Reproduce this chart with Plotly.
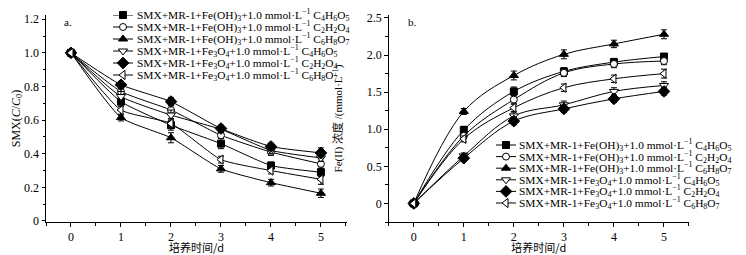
import plotly.graph_objects as go

days = [0, 1, 2, 3, 4, 5]

series_names = [
    "SMX+MR-1+Fe(OH)<sub>3</sub>+1.0 mmol·L<sup>−1</sup> C<sub>4</sub>H<sub>6</sub>O<sub>5</sub>",
    "SMX+MR-1+Fe(OH)<sub>3</sub>+1.0 mmol·L<sup>−1</sup> C<sub>2</sub>H<sub>2</sub>O<sub>4</sub>",
    "SMX+MR-1+Fe(OH)<sub>3</sub>+1.0 mmol·L<sup>−1</sup> C<sub>6</sub>H<sub>8</sub>O<sub>7</sub>",
    "SMX+MR-1+Fe<sub>3</sub>O<sub>4</sub>+1.0 mmol·L<sup>−1</sup> C<sub>4</sub>H<sub>6</sub>O<sub>5</sub>",
    "SMX+MR-1+Fe<sub>3</sub>O<sub>4</sub>+1.0 mmol·L<sup>−1</sup> C<sub>2</sub>H<sub>2</sub>O<sub>4</sub>",
    "SMX+MR-1+Fe<sub>3</sub>O<sub>4</sub>+1.0 mmol·L<sup>−1</sup> C<sub>6</sub>H<sub>8</sub>O<sub>7</sub>",
]

# Panel a: SMX C/C0
smx_fe_oh3_c4 = [1.0, 0.71, 0.57, 0.46, 0.33, 0.29]
smx_fe_oh3_c2 = [1.0, 0.77, 0.66, 0.51, 0.41, 0.34]
smx_fe_oh3_c6 = [1.0, 0.615, 0.495, 0.31, 0.228, 0.165]
smx_fe3o4_c4 = [1.0, 0.74, 0.63, 0.545, 0.42, 0.375]
smx_fe3o4_c2 = [1.0, 0.81, 0.71, 0.55, 0.443, 0.405]
smx_fe3o4_c6 = [1.0, 0.66, 0.58, 0.365, 0.30, 0.248]
smx_err = [
    [0.01, 0.03, 0.03, 0.03, 0.02, 0.025],
    [0.01, 0.025, 0.03, 0.02, 0.02, 0.03],
    [0.01, 0.02, 0.03, 0.02, 0.02, 0.025],
    [0.01, 0.03, 0.03, 0.02, 0.02, 0.02],
    [0.01, 0.02, 0.025, 0.02, 0.02, 0.03],
    [0.01, 0.03, 0.03, 0.02, 0.02, 0.03],
]

# Panel b: Fe(II) concentration
fe_fe_oh3_c4 = [0.0, 0.99, 1.51, 1.78, 1.905, 1.98]
fe_fe_oh3_c2 = [0.0, 0.91, 1.40, 1.76, 1.88, 1.92]
fe_fe_oh3_c6 = [0.0, 1.24, 1.725, 2.01, 2.15, 2.28]
fe_fe3o4_c4 = [0.0, 0.64, 1.18, 1.33, 1.51, 1.59]
fe_fe3o4_c2 = [0.0, 0.61, 1.11, 1.275, 1.41, 1.51]
fe_fe3o4_c6 = [0.0, 0.87, 1.29, 1.56, 1.68, 1.75]
fe_err = [
    [0.01, 0.05, 0.06, 0.05, 0.05, 0.04],
    [0.01, 0.04, 0.06, 0.05, 0.05, 0.05],
    [0.01, 0.04, 0.06, 0.06, 0.05, 0.06],
    [0.01, 0.04, 0.05, 0.05, 0.05, 0.05],
    [0.01, 0.04, 0.05, 0.05, 0.05, 0.05],
    [0.01, 0.04, 0.05, 0.05, 0.05, 0.06],
]

smx_series = [smx_fe_oh3_c4, smx_fe_oh3_c2, smx_fe_oh3_c6, smx_fe3o4_c4, smx_fe3o4_c2, smx_fe3o4_c6]
fe_series = [fe_fe_oh3_c4, fe_fe_oh3_c2, fe_fe_oh3_c6, fe_fe3o4_c4, fe_fe3o4_c2, fe_fe3o4_c6]

symbols = ["square", "circle", "triangle-up", "triangle-down", "diamond", "triangle-left"]
fills = ["black", "white", "black", "white", "black", "white"]
sizes = [7, 7, 8, 8, 9, 8]

smx_ticks = [0, 0.2, 0.4, 0.6, 0.8, 1.0, 1.2]
smx_ticktext = ["0", "0.2", "0.4", "0.6", "0.8", "1.0", "1.2"]
fe_ticks = [0, 0.5, 1.0, 1.5, 2.0, 2.5]
fe_ticktext = ["0", "0.5", "1.0", "1.5", "2.0", "2.5"]

FONT = "Liberation Serif, Times New Roman, serif"
CJK = "Noto Sans CJK SC"

# The page body has an 8px margin, so the figure is drawn 8px in from the page corner.
PAGE_OFF = 8

# Hand-built legends, positions in page pixels
LEG_A = dict(x0=113, text_x=135, y0=15, dy=12.0)
LEG_B = dict(x0=496, text_x=517, y0=145, dy=11.6)
SAMPLE_W = 20

fig = go.Figure()

for i in range(6):
    fig.add_trace(go.Scatter(
        x=days, y=smx_series[i], name=series_names[i], mode="lines+markers",
        line=dict(color="black", width=1, shape="spline", smoothing=0.5),
        marker=dict(symbol=symbols[i], size=sizes[i], color=fills[i], line=dict(color="black", width=1)),
        error_y=dict(type="data", array=smx_err[i], color="black", thickness=1, width=3),
        xaxis="x", yaxis="y", showlegend=False,
    ))

for i in range(6):
    fig.add_trace(go.Scatter(
        x=days, y=fe_series[i], name=series_names[i], mode="lines+markers",
        line=dict(color="black", width=1, shape="spline", smoothing=1.0),
        marker=dict(symbol=symbols[i], size=sizes[i], color=fills[i], line=dict(color="black", width=1)),
        error_y=dict(type="data", array=fe_err[i], color="black", thickness=1, width=3),
        xaxis="x2", yaxis="y2", showlegend=False,
    ))

annotations = []
for leg in (LEG_A, LEG_B):
    for i in range(6):
        yc = leg["y0"] + i * leg["dy"]
        fig.add_trace(go.Scatter(
            x=[leg["x0"], leg["x0"] + SAMPLE_W / 2, leg["x0"] + SAMPLE_W], y=[yc, yc, yc],
            mode="lines+markers", line=dict(color="black", width=1),
            marker=dict(symbol=symbols[i], size=sizes[i], color=fills[i],
                        line=dict(color="black", width=1), opacity=[0, 1, 0]),
            xaxis="x3", yaxis="y3", showlegend=False, hoverinfo="skip", cliponaxis=False,
        ))
        annotations.append(dict(
            text=series_names[i], x=leg["text_x"], y=yc, xref="x3", yref="y3",
            showarrow=False, xanchor="left", yanchor="middle",
            font=dict(family=FONT, size=11.4, color="black"),
        ))

annotations += [
    dict(text="a.", x=62, y=22, xref="x3", yref="y3", showarrow=False,
         xanchor="left", yanchor="middle", font=dict(family=FONT, size=11)),
    dict(text="b.", x=406, y=22, xref="x3", yref="y3", showarrow=False,
         xanchor="left", yanchor="middle", font=dict(family=FONT, size=11)),
]

axis_common = dict(
    showline=True, linecolor="black", linewidth=1, ticks="outside", ticklen=3.5,
    tickcolor="black", tickwidth=1, showgrid=False, zeroline=False, automargin=False,
    tickfont=dict(family=FONT, size=12, color="black"),
)

xticks = dict(tickmode="array", tickvals=days, ticktext=[str(d) for d in days],
              minor=dict(ticks="outside", ticklen=2.5, tickcolor="black", dtick=0.5, tick0=0.5, showgrid=False))

# Plot area in page pixels: x 46..689, y 15..222
fig.update_layout(
    width=746 - PAGE_OFF, height=255 - PAGE_OFF,
    margin=dict(l=46 - PAGE_OFF, r=746 - 689, t=15 - PAGE_OFF, b=255 - 222),
    paper_bgcolor="white", plot_bgcolor="rgba(0,0,0,0)",
    font=dict(family=FONT, size=12, color="black"),
    showlegend=False,
    xaxis=dict(domain=[0, 0.468], range=[-0.5, 5.52], anchor="y",
               title=dict(text="培养时间/d", font=dict(family=CJK, size=11), standoff=3),
               **xticks, **axis_common),
    yaxis=dict(range=[-0.006, 1.225], anchor="x", tickmode="array", tickvals=smx_ticks, ticktext=smx_ticktext,
               minor=dict(ticks="outside", ticklen=2.5, tickcolor="black", dtick=0.1, tick0=0, showgrid=False),
               title=dict(text="SMX(<i>C</i>/<i>C</i><sub>0</sub>)", font=dict(family=FONT, size=12), standoff=0),
               **axis_common),
    xaxis2=dict(domain=[0.533, 1], range=[-0.5, 5.5], anchor="y2",
                title=dict(text="培养时间/d", font=dict(family=CJK, size=11), standoff=3),
                **xticks, **axis_common),
    yaxis2=dict(range=[-0.25, 2.54], anchor="x2", tickmode="array", tickvals=fe_ticks, ticktext=fe_ticktext,
                minor=dict(ticks="outside", ticklen=2.5, tickcolor="black", dtick=0.25, tick0=0, showgrid=False),
                title=dict(text="Fe(II) 浓度 /(mmol·L<sup>−1</sup>)", font=dict(family=FONT + ", " + CJK, size=11), standoff=21),
                **axis_common),
    xaxis3=dict(domain=[0, 1], range=[46, 689], anchor="y3", visible=False, fixedrange=True, automargin=False),
    yaxis3=dict(domain=[0, 1], range=[222, 15], anchor="x3", visible=False, fixedrange=True, automargin=False),
    annotations=annotations,
)

fig.write_html("out.html")
